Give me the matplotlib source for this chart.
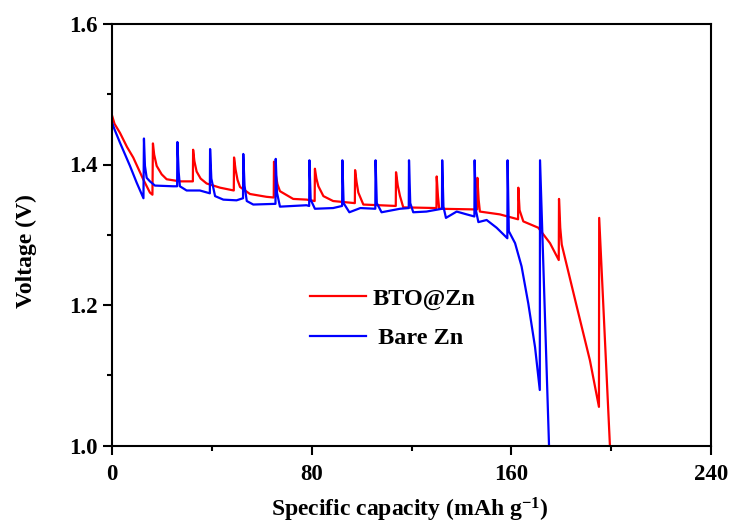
import numpy as np
import matplotlib
matplotlib.use('Agg')
from matplotlib import pyplot as plt
from matplotlib.ticker import MultipleLocator

plt.rcParams['font.family'] = 'Liberation Serif'
plt.rcParams['font.weight'] = 'bold'
plt.rcParams['mathtext.fontset'] = 'custom'
plt.rcParams['mathtext.rm'] = 'Liberation Serif:bold'
plt.rcParams['mathtext.it'] = 'Liberation Serif:bold'
plt.rcParams['mathtext.bf'] = 'Liberation Serif:bold'

bto_cap = [0, 1.0, 3.2, 6.0, 8.5, 12.5, 15.2, 16.2,
           16.4, 16.9, 17.9, 19.9, 21.9, 27.2, 32.4,
           32.5, 33.0, 33.9, 35.5, 37.9, 43.3, 48.8,
           48.9, 49.5, 50.3, 51.3, 55.3, 61.9, 64.8,
           64.9, 65.5, 66.3, 67.3, 72.6, 78.0, 81.2,
           81.3, 81.9, 82.7, 84.7, 88.6, 97.3,
           97.4, 98.0, 98.7, 100.7, 113.7,
           113.8, 114.5, 115.4, 116.7, 130.0,
           130.1, 130.6, 131.1, 146.3,
           146.4, 146.9, 147.4, 155.4, 162.7,
           162.8, 163.3, 164.8, 170.8, 175.5, 179.0,
           179.1, 179.6, 180.2, 186.2, 191.5, 195.1,
           195.2, 199.5]
bto_v = [1.470, 1.458, 1.445, 1.425, 1.410, 1.379, 1.360, 1.357,
         1.430, 1.414, 1.398, 1.386, 1.379, 1.376, 1.376,
         1.421, 1.405, 1.390, 1.380, 1.373, 1.367, 1.363,
         1.410, 1.393, 1.378, 1.368, 1.358, 1.354, 1.353,
         1.404, 1.388, 1.372, 1.362, 1.351, 1.350, 1.348,
         1.394, 1.380, 1.369, 1.355, 1.348, 1.345,
         1.392, 1.375, 1.360, 1.343, 1.341,
         1.389, 1.370, 1.355, 1.339, 1.338,
         1.383, 1.355, 1.337, 1.336,
         1.381, 1.350, 1.333, 1.329, 1.322,
         1.367, 1.335, 1.319, 1.310, 1.288, 1.264,
         1.351, 1.310, 1.286, 1.198, 1.121, 1.055,
         1.324, 1.000]

bare_cap = [0, 1.0, 3.2, 7.2, 9.9, 12.6,
            12.8, 13.2, 13.9, 15.2, 17.2, 24.5, 26.1,
            26.2, 26.7, 27.2, 29.9, 35.2, 39.2,
            39.3, 39.8, 41.3, 44.6, 49.9, 52.5,
            52.6, 53.1, 54.0, 56.6, 65.5,
            65.6, 66.1, 67.3, 77.9, 79.0,
            79.1, 79.6, 81.3, 88.6, 92.2,
            92.3, 92.8, 95.1, 99.5, 105.5,
            105.6, 106.1, 108.0, 115.4, 118.9,
            119.0, 119.5, 120.7, 126.0, 132.2,
            132.3, 132.8, 133.8, 138.1, 142.1, 145.2,
            145.3, 145.8, 146.8, 150.1, 154.1, 158.4,
            158.5, 159.0, 161.5, 164.1, 166.8, 169.5, 171.4,
            171.5, 175.1]
bare_v = [1.460, 1.450, 1.431, 1.398, 1.374, 1.352,
          1.437, 1.398, 1.381, 1.376, 1.370, 1.369, 1.369,
          1.432, 1.390, 1.369, 1.363, 1.363, 1.359,
          1.422, 1.380, 1.355, 1.350, 1.349, 1.352,
          1.415, 1.370, 1.348, 1.343, 1.344,
          1.408, 1.360, 1.340, 1.342, 1.341,
          1.406, 1.350, 1.337, 1.338, 1.341,
          1.406, 1.345, 1.332, 1.338, 1.337,
          1.406, 1.345, 1.332, 1.337, 1.338,
          1.406, 1.345, 1.332, 1.333, 1.337,
          1.406, 1.340, 1.324, 1.333, 1.329, 1.326,
          1.406, 1.335, 1.318, 1.321, 1.310, 1.295,
          1.406, 1.305, 1.288, 1.255, 1.202, 1.140, 1.079,
          1.406, 1.000]

fig = plt.figure(figsize=(7.31, 5.30), dpi=100)
ax = fig.add_axes([112/731, 84.5/530, 599/731, 421.5/530])

ax.plot(bto_cap, bto_v, color='#ff0000', lw=1.6, label='BTO@Zn')
ax.plot(bare_cap, bare_v, color='#0000ff', lw=1.6, label=' Bare Zn')

ax.set_xlim(0, 240)
ax.set_ylim(1.0, 1.6)
ax.xaxis.set_major_locator(MultipleLocator(80))
ax.xaxis.set_minor_locator(MultipleLocator(40))
ax.yaxis.set_major_locator(MultipleLocator(0.2))
ax.yaxis.set_minor_locator(MultipleLocator(0.1))
ax.tick_params(which='major', direction='out', length=6.5, width=1.5, labelsize=16.5)
ax.tick_params(axis='x', which='major', pad=7)
ax.tick_params(which='minor', direction='out', length=3.5, width=1.5)
for s in ax.spines.values():
    s.set_linewidth(1.5)

ax.set_xlabel('Specific capacity (mAh g$^{-1}$)', fontsize=17, fontweight='bold')
ax.set_ylabel('Voltage (V)', fontsize=17, fontweight='bold')
ax.xaxis.set_label_coords(0.4975, -0.12)
ax.yaxis.set_label_coords(-0.126, 0.461)

ax.legend(loc='upper left', bbox_to_anchor=(0.331, 0.374), frameon=False,
          fontsize=17.5, handlelength=2.3, handletextpad=0.25,
          labelspacing=0.7, borderpad=0, borderaxespad=0)

fig.savefig('out.png', dpi=100)
